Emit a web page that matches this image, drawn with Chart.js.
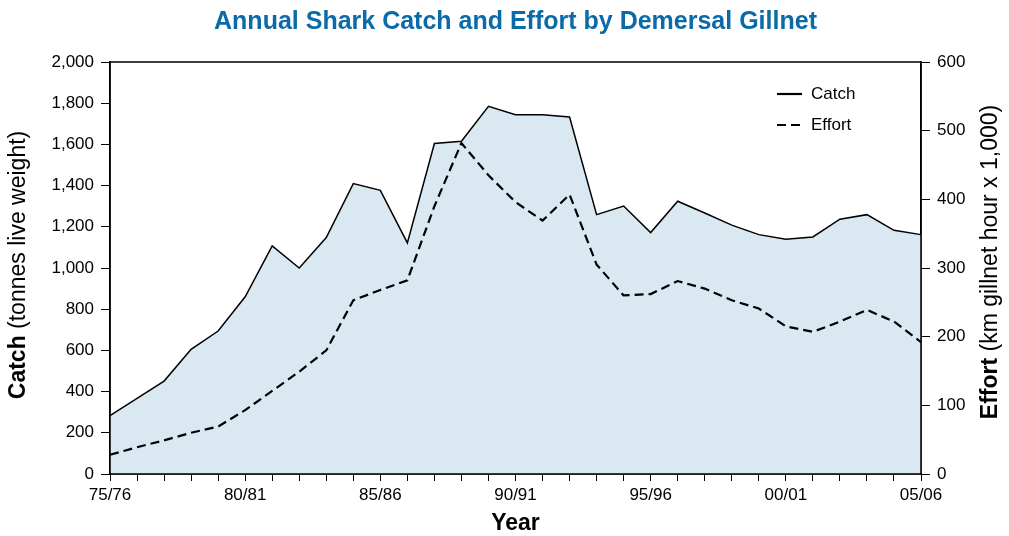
<!DOCTYPE html>
<html>
<head>
<meta charset="utf-8">
<script src="https://cdn.jsdelivr.net/npm/chart.js@4.4.1/dist/chart.umd.min.js"></script>
<style>
  html, body { margin: 0; padding: 0; background: #fff; }
  #wrap { width: 1009px; height: 536px; }
</style>
</head>
<body>
<div id="wrap"><canvas id="chart" width="1009" height="536"></canvas></div>
<script>
// seasons 75/76 .. 05/06
const seasons = [
    '75/76', '76/77', '77/78', '78/79', '79/80', '80/81', '81/82', '82/83', '83/84', '84/85',
    '85/86', '86/87', '87/88', '88/89', '89/90', '90/91', '91/92', '92/93', '93/94', '94/95',
    '95/96', '96/97', '97/98', '98/99', '99/00', '00/01', '01/02', '02/03', '03/04', '04/05', '05/06'
];
const labeledSeasons = ['75/76', '80/81', '85/86', '90/91', '95/96', '00/01', '05/06'];

// tonnes live weight
const catchTonnes = [
    283, 367, 451, 605, 694, 860, 1107, 1000, 1148, 1410,
    1377, 1122, 1604, 1615, 1785, 1744, 1744, 1733, 1259, 1301,
    1172, 1324, 1267, 1208, 1162, 1140, 1151, 1237, 1259, 1183, 1162
];

// km gillnet hour x 1,000
const effortKmHours = [
    28, 39, 49, 60, 69, 93, 121, 149, 180, 253,
    268, 282, 390, 482, 435, 396, 369, 407, 305, 260,
    262, 281, 270, 253, 241, 215, 207, 222, 239, 222, 192
];

const FONT = "'Liberation Sans', Arial, Helvetica, sans-serif";
const NARROW = "'Liberation Sans Narrow', 'Arial Narrow', 'Liberation Sans', sans-serif";

// frame, title, axis titles and legend drawn by hand
const decorations = {
    id: 'decorations',
    afterDatasetsDraw(chart) {
        const ctx = chart.ctx;
        const a = chart.chartArea;
        ctx.save();

        ctx.strokeStyle = '#000';
        ctx.lineWidth = 1.5;
        ctx.strokeRect(a.left, a.top, a.right - a.left, a.bottom - a.top);

        // title
        ctx.fillStyle = '#0a6ba8';
        ctx.font = 'bold 25px ' + NARROW;
        ctx.textAlign = 'center';
        ctx.textBaseline = 'middle';
        ctx.fillText('Annual Shark Catch and Effort by Demersal Gillnet', (a.left + a.right) / 2, 22);

        // x title
        ctx.fillStyle = '#000';
        ctx.font = 'bold 23px ' + FONT;
        ctx.fillText('Year', (a.left + a.right) / 2, 524);

        // rotated axis titles, bold part + normal part
        function sideTitle(x, yMid, bold, rest) {
            ctx.save();
            ctx.translate(x, yMid);
            ctx.rotate(-Math.PI / 2);
            ctx.textAlign = 'left';
            ctx.textBaseline = 'middle';
            ctx.font = 'bold 23px ' + FONT;
            const w1 = ctx.measureText(bold).width;
            ctx.font = '23px ' + FONT;
            const w2 = ctx.measureText(rest).width;
            let start = -(w1 + w2) / 2;
            ctx.font = 'bold 23px ' + FONT;
            ctx.fillText(bold, start, 0);
            ctx.font = '23px ' + FONT;
            ctx.fillText(rest, start + w1, 0);
            ctx.restore();
        }
        sideTitle(19, 265, 'Catch', ' (tonnes live weight)');
        sideTitle(991, 262, 'Effort', ' (km gillnet hour x 1,000)');

        // legend
        ctx.font = '17px ' + FONT;
        ctx.textAlign = 'left';
        ctx.textBaseline = 'middle';
        ctx.lineWidth = 2.2;
        ctx.beginPath();
        ctx.moveTo(777, 94);
        ctx.lineTo(802, 94);
        ctx.stroke();
        ctx.fillText('Catch', 811, 94);
        ctx.setLineDash([9, 5]);
        ctx.beginPath();
        ctx.moveTo(777, 125);
        ctx.lineTo(805, 125);
        ctx.stroke();
        ctx.setLineDash([]);
        ctx.fillText('Effort', 811, 125);

        ctx.restore();
    }
};

const ctx = document.getElementById('chart').getContext('2d');
new Chart(ctx, {
    type: 'line',
    data: {
        labels: seasons,
        datasets: [
            {
                label: 'Effort',
                data: effortKmHours,
                yAxisID: 'y1',
                borderColor: '#000',
                borderWidth: 2.2,
                borderDash: [9, 5],
                fill: false,
                pointRadius: 0,
                tension: 0,
                order: 1
            },
            {
                label: 'Catch',
                data: catchTonnes,
                yAxisID: 'y',
                borderColor: '#000',
                borderWidth: 1.5,
                backgroundColor: '#d9e8f1',
                fill: 'origin',
                pointRadius: 0,
                tension: 0,
                order: 2
            }
        ]
    },
    options: {
        responsive: false,
        animation: false,
        layout: { padding: { top: 62, left: 0, right: 0, bottom: 0 } },
        plugins: {
            legend: { display: false },
            title: { display: false },
            tooltip: { enabled: false }
        },
        scales: {
            x: {
                offset: false,
                grid: { drawOnChartArea: false, drawTicks: true, tickLength: 7, color: '#000', lineWidth: 1 },
                border: { color: '#000', width: 1.5 },
                ticks: {
                    autoSkip: false,
                    maxRotation: 0,
                    padding: 4,
                    color: '#000',
                    font: { family: FONT, size: 17 },
                    callback: function (value) {
                        const lab = this.getLabelForValue(value);
                        return labeledSeasons.includes(lab) ? lab : '';
                    }
                },
                afterFit: scale => { scale.height = 62; }
            },
            y: {
                position: 'left',
                min: 0,
                max: 2000,
                grid: { drawOnChartArea: false, tickLength: 9, color: '#000' },
                border: { color: '#000', width: 1.5 },
                ticks: {
                    stepSize: 200,
                    padding: 7,
                    color: '#000',
                    font: { family: FONT, size: 17 },
                    callback: v => v.toLocaleString('en-US')
                },
                afterFit: scale => { scale.width = 110; }
            },
            y1: {
                position: 'right',
                min: 0,
                max: 600,
                grid: { drawOnChartArea: false, tickLength: 9, color: '#000' },
                border: { color: '#000', width: 1.5 },
                ticks: {
                    stepSize: 100,
                    padding: 7,
                    color: '#000',
                    font: { family: FONT, size: 17 }
                },
                afterFit: scale => { scale.width = 88; }
            }
        }
    },
    plugins: [decorations]
});
</script>
</body>
</html>
